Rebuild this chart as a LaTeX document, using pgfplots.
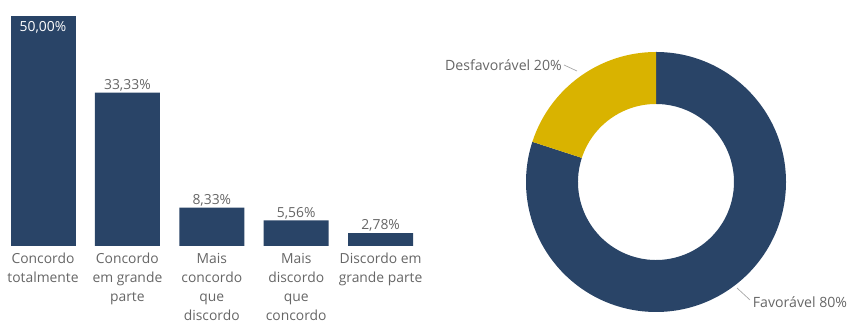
\documentclass[border=0pt]{standalone}
\usepackage{pgfplots}
\pgfplotsset{compat=1.18}
\usepackage{fontspec}
\setmainfont{Open Sans}
\definecolor{navy}{HTML}{294467}
\definecolor{gold}{HTML}{D9B300}
\definecolor{lbl}{HTML}{666666}
\begin{document}
\begin{tikzpicture}
\path[use as bounding box] (0,0) rectangle (637.5pt,242.25pt);
\begin{axis}[
  at={(0.6pt,57.75pt)}, anchor=south west,
  scale only axis, width=316.5pt, height=172.5pt,
  xmin=-0.5, xmax=4.5, ymin=0, ymax=50,
  axis line style={draw=none},
  ytick=\empty,
  xtick={0,1,2,3,4},
  major tick length=0pt,
  xticklabels={{Concordo\\totalmente},{Concordo\\em grande\\parte},{Mais\\concordo\\que\\discordo},{Mais\\discordo\\que\\concordo},{Discordo em\\grande parte}},
  xticklabel style={font=\fontsize{10.4}{14.2}\selectfont, text=lbl, align=center, anchor=north, yshift=-2pt},
  ybar, bar width=48.75pt, bar shift=0pt,
  point meta=explicit symbolic,
  nodes near coords,
  nodes near coords style={font=\fontsize{10.4}{12}\selectfont, text=lbl, anchor=south, inner sep=1pt},
  clip=false,
]
\addplot[fill=navy, draw=none] coordinates {(1,33.33) [33,33\%] (2,8.33) [8,33\%] (3,5.56) [5,56\%] (4,2.78) [2,78\%]};
\addplot[fill=navy, draw=none, nodes near coords style={anchor=north, text=white, yshift=-3pt}] coordinates {(0,50) [50,00\%]};
\end{axis}
\begin{axis}[
  at={(492pt,105.75pt)}, anchor=center,
  scale only axis, width=195pt, height=195pt,
  hide axis, xmin=-1, xmax=1, ymin=-1, ymax=1, clip=false,
]
\pgfmathsetmacro\fav{80}
\pgfmathsetmacro\desfav{20}
\pgfmathsetmacro\angA{90-3.6*\fav}
\pgfmathsetmacro\angB{90+3.6*\desfav}
\fill[navy] (axis cs:0,0) ++(90:97.5pt) arc[start angle=90, end angle=\angA, radius=97.5pt] -- ++(\angA:-39pt) arc[start angle=\angA, end angle=90, radius=58.5pt] -- cycle;
\fill[gold] (axis cs:0,0) ++(90:97.5pt) arc[start angle=90, end angle=\angB, radius=97.5pt] -- ++(\angB:-39pt) arc[start angle=\angB, end angle=90, radius=58.5pt] -- cycle;
\end{axis}
\draw[lbl!60, line width=0.5pt] (423pt,193.5pt) -- (432.75pt,189pt);
\node[anchor=east, inner sep=1pt, text=lbl, font=\fontsize{10.6}{12}\selectfont] at (422.5pt,193.5pt) {Desfavorável 20\%};
\draw[lbl!60, line width=0.5pt] (552.75pt,26.25pt) -- (562.5pt,17.25pt);
\node[anchor=west, inner sep=1pt, text=lbl, font=\fontsize{10.6}{12}\selectfont] at (563.5pt,15.75pt) {Favorável 80\%};
\end{tikzpicture}
\end{document}
